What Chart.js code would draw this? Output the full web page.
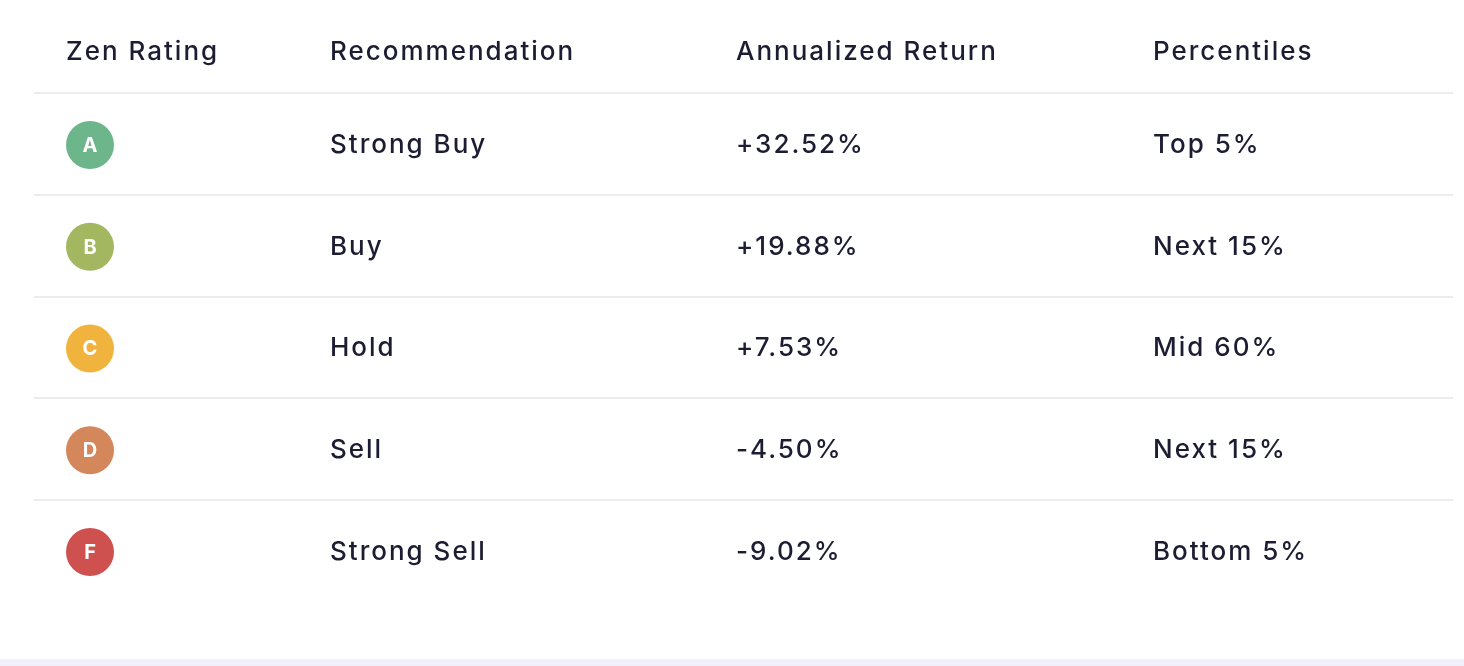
<!DOCTYPE html>
<html>
<head>
<meta charset="utf-8">
<script src="https://cdn.jsdelivr.net/npm/chart.js@4.4.1/dist/chart.umd.min.js"></script>
<style>
  html, body { margin: 0; padding: 0; background: #fff; }
  #wrap { width: 1464px; height: 666px; }
</style>
</head>
<body>
<div id="wrap"><canvas id="zenTable"></canvas></div>
<script>
// table content
var headers = ['Zen Rating', 'Recommendation', 'Annualized Return', 'Percentiles'];
var ratings = ['A', 'B', 'C', 'D', 'F'];
var recommendations = ['Strong Buy', 'Buy', 'Hold', 'Sell', 'Strong Sell'];
var annualReturns = [32.52, 19.88, 7.53, -4.50, -9.02];
var percentiles = ['Top 5%', 'Next 15%', 'Mid 60%', 'Next 15%', 'Bottom 5%'];
var ratingColors = ['#6db58a', '#a3b760', '#f0b43e', '#d4875a', '#cf514f'];

var FONT = 'Inter, "Noto Sans", sans-serif';
var TEXT = '#1c1d33';
var colX = [66, 330, 736, 1153];

function fmtReturn(v) {
    return (v >= 0 ? '+' : '') + v.toFixed(2) + '%';
}

// draws header, row separators and cell text using the scales
var tablePlugin = {
    id: 'tablePlugin',
    beforeDatasetsDraw: function (chart) {
        var c = chart.ctx, y = chart.scales.y, x = chart.scales.x;
        c.save();
        c.strokeStyle = '#ececf0';
        c.lineWidth = 2;
        for (var i = 0; i < ratings.length; i++) {
            var py = Math.round(y.getPixelForValue(i + 0.49));
            c.beginPath();
            c.moveTo(x.getPixelForValue(34), py);
            c.lineTo(x.getPixelForValue(1453), py);
            c.stroke();
        }
        c.fillStyle = '#f1f0fa';
        c.fillRect(0, 659, 1464, 7);
        c.restore();
    },
    afterDatasetsDraw: function (chart) {
        var c = chart.ctx, y = chart.scales.y, x = chart.scales.x;
        c.save();
        c.textBaseline = 'middle';
        c.fillStyle = TEXT;
        c.font = '500 26px ' + FONT;
        c.letterSpacing = '2px';
        var hy = y.getPixelForValue(0.086);
        headers.forEach(function (h, k) {
            c.fillText(h, x.getPixelForValue(colX[k]), hy);
        });
        ratings.forEach(function (r, i) {
            var py = y.getPixelForValue(i + 1);
            c.fillStyle = '#ffffff';
            c.font = '700 20px ' + FONT;
            c.letterSpacing = '0px';
            c.textAlign = 'center';
            c.fillText(r, x.getPixelForValue(90), py + 1);
            c.textAlign = 'left';
            c.fillStyle = TEXT;
            c.font = '500 26px ' + FONT;
            c.letterSpacing = '2px';
            c.fillText(recommendations[i], x.getPixelForValue(colX[1]), py);
            c.fillText(fmtReturn(annualReturns[i]), x.getPixelForValue(colX[2]), py);
            c.fillText(percentiles[i], x.getPixelForValue(colX[3]), py);
        });
        c.restore();
    }
};

var ctx = document.getElementById('zenTable').getContext('2d');
var zenChart = new Chart(ctx, {
    type: 'scatter',
    data: {
        datasets: [{
            data: ratings.map(function (r, i) { return { x: 90, y: i + 1 }; }),
            pointRadius: 24,
            pointHoverRadius: 24,
            pointBackgroundColor: ratingColors,
            pointBorderWidth: 0
        }]
    },
    options: {
        responsive: true,
        maintainAspectRatio: false,
        animation: false,
        layout: { padding: 0 },
        plugins: { legend: { display: false }, tooltip: { enabled: false } },
        scales: {
            x: { type: 'linear', min: 24, max: 1440, display: false },
            y: { type: 'linear', min: -0.189, max: 5.885, reverse: true, display: false }
        }
    },
    plugins: [tablePlugin]
});
</script>
</body>
</html>
